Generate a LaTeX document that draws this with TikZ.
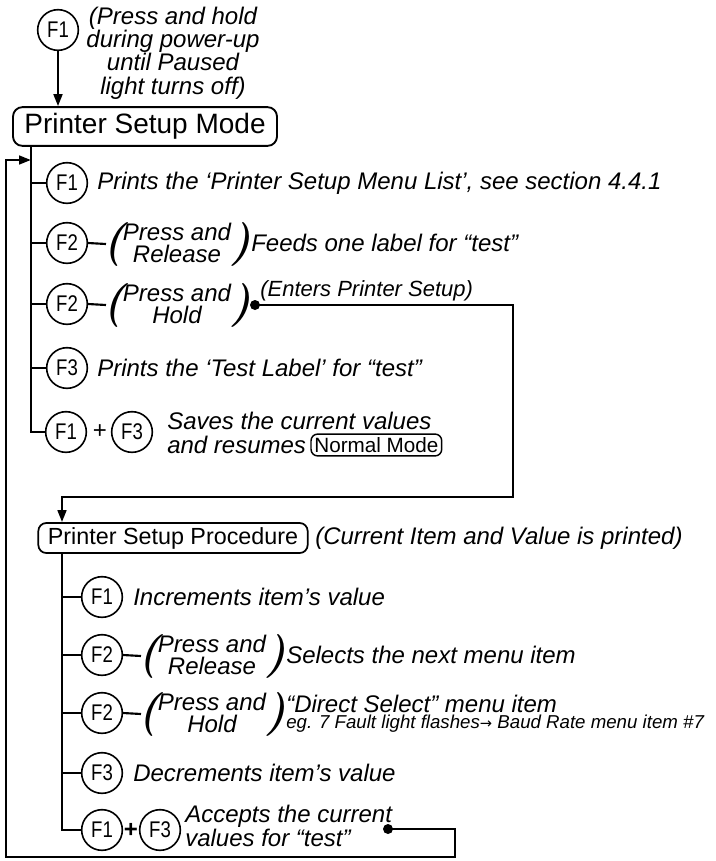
\documentclass[tikz,border=0pt]{standalone}
\usepackage{fontspec}
\setmainfont{Liberation Sans}
\newfontfamily\condfont[FakeStretch=0.82]{Liberation Sans}
\newfontfamily\dejavu{DejaVu Sans}
\newfontfamily\lmfont{Latin Modern Roman}
\usetikzlibrary{arrows.meta}
\begin{document}
\begin{tikzpicture}[x=0.75pt,y=-0.75pt,
  key/.style={circle,draw,line width=1.2pt,minimum size=30.5pt,inner sep=0pt,font=\condfont\fontsize{17}{17}\selectfont},
  wire/.style={line width=1.6pt},
  conn/.style={line width=1.9pt},
  arr/.style={-{Triangle[length=9pt,width=6.5pt]}},
  desc/.style={anchor=west,inner sep=0pt,align=left,font=\itshape\fontsize{18}{17.5}\selectfont},
  note/.style={inner sep=0pt,align=center,font=\itshape\fontsize{18}{17.5}\selectfont},
  paren/.style={inner sep=0pt,font=\lmfont\bfseries\itshape\fontsize{33}{33}\selectfont},
  pr/.style={inner sep=0pt,align=center,font=\itshape\fontsize{18}{16}\selectfont},
  modebox/.style={draw,rounded corners=7pt,line width=1.4pt,inner sep=0pt,minimum width=198pt,minimum height=29pt,font=\fontsize{21}{21}\selectfont},
  procbox/.style={draw,rounded corners=6pt,line width=1.3pt,inner sep=0pt,minimum width=202pt,minimum height=22.5pt,font=\fontsize{17.5}{17.5}\selectfont},
  normbox/.style={draw,rounded corners=5pt,line width=1.1pt,inner sep=2.5pt,font=\fontsize{15.5}{15.5}\selectfont},
  enter/.style={inner sep=0pt,font=\itshape\fontsize{16.5}{16.5}\selectfont},
  smalltext/.style={inner sep=0pt,anchor=north west,font=\itshape\fontsize{14}{14}\selectfont},
  plus/.style={inner sep=0pt,font=\fontsize{18}{18}\selectfont},
  dot/.style={circle,fill,inner sep=0pt,minimum size=7.5pt}
]
\useasboundingbox (0,0) rectangle (715,861);

% ---------- top ----------
\node[key] (k0) at (58,30) {F1};
\node[note] (hold) at (173,53) {(Press and hold\\during power-up\\until Paused\\light turns off)};
\node[modebox] (mode) at (145,126.5) {Printer Setup Mode};
\draw[conn,arr] (k0) -- (k0 |- mode.north);

\coordinate (tA) at (31,160);
% rows of Printer Setup Mode
\node[key] (a1) at (67,183) {F1};
\node[desc] (a1d) at (97,183) {Prints the ‘Printer Setup Menu List’, see section 4.4.1};

\node[key] (a2) at (67,243) {F2};
\node[paren] (a2l) at (114,244) {(};
\node[pr] (a2t) at (177,243) {Press and\\Release};
\node[paren] (a2r) at (241,244) {)};
\node[desc] (a2d) at (251,243) {Feeds one label for “test”};

\node[key] (a3) at (67,304) {F2};
\node[paren] (a3l) at (114,305) {(};
\node[pr] (a3t) at (177,304) {Press and\\Hold};
\node[paren] (a3r) at (241,305) {)};
\node[dot] (d1) at (255,305) {};
\node[enter,anchor=south west] (ent) at (260,301) {(Enters Printer Setup)};

\node[key] (a4) at (67,368) {F3};
\node[desc] (a4d) at (97,368) {Prints the ‘Test Label’ for “test”};

\node[key] (a5) at (66,432) {F1};
\node[plus] (a5p) at (100,432) {+};
\node[key] (a5b) at (132,432) {F3};
\node[desc] (a5d) at (167,421) {Saves the current values};
\node[desc] (a5e) at (167,445) {and resumes};
\node[normbox,anchor=west] (norm) at ([xshift=3pt]a5e.east) {Normal Mode};

\draw[wire] (mode.south -| tA) |- (a5.west);
\draw[wire] (a1.west -| tA) -- (a1.west);
\draw[wire] (a2.west -| tA) -- (a2.west);
\draw[wire] (a3.west -| tA) -- (a3.west);
\draw[wire] (a4.west -| tA) -- (a4.west);
\draw[wire] (a2.east) -- ([xshift=2pt]a2l.west);
\draw[wire] (a3.east) -- ([xshift=2pt]a3l.west);

% ---------- connector to procedure ----------
\coordinate (c1) at (513,497);
\coordinate (tB) at (62,497);
\node[procbox] (proc) at (173,538) {Printer Setup Procedure};
\node[desc] (cur) at (315,538) {(Current Item and Value is printed)};
\draw[conn,arr] (d1.center) -| (c1) -| (proc.north -| tB);

% ---------- rows of procedure ----------
\node[key] (b1) at (102,597) {F1};
\node[desc] (b1d) at (133,597) {Increments item’s value};

\node[key] (b2) at (102,655) {F2};
\node[paren] (b2l) at (149,656) {(};
\node[pr] (b2t) at (212,655) {Press and\\Release};
\node[paren] (b2r) at (276,656) {)};
\node[desc] (b2d) at (286,655) {Selects the next menu item};

\node[key] (b3) at (102,713) {F2};
\node[paren] (b3l) at (149,714) {(};
\node[pr] (b3t) at (212,713) {Press and\\Hold};
\node[paren] (b3r) at (276,714) {)};
\node[desc] (b3d) at (286,704) {“Direct Select” menu item};
\node[smalltext] (b3e) at ([yshift=-1.5pt]b3d.south west) {eg. 7 Fault light flashes{\dejavu\fontsize{11}{11}\selectfont →} Baud Rate menu item \#7};

\node[key] (b4) at (102,773) {F3};
\node[desc] (b4d) at (133,773) {Decrements item’s value};

\node[key] (b5) at (102,830) {F1};
\node[plus,font=\bfseries\fontsize{18}{18}\selectfont] (b5p) at (131,830) {+};
\node[key] (b5b) at (160,830) {F3};
\node[desc] (b5d) at (185,826) {Accepts the current\\values for “test”};
\node[dot] (d2) at (388,829) {};

\draw[wire] (proc.south -| tB) |- (b5.west);
\draw[wire] (b1.west -| tB) -- (b1.west);
\draw[wire] (b2.west -| tB) -- (b2.west);
\draw[wire] (b3.west -| tB) -- (b3.west);
\draw[wire] (b4.west -| tB) -- (b4.west);
\draw[wire] (b2.east) -- ([xshift=2pt]b2l.west);
\draw[wire] (b3.east) -- ([xshift=2pt]b3l.west);

% ---------- loop back ----------
\coordinate (c2) at (455,857);
\coordinate (c3) at (6,160);
\draw[conn,arr] (d2.center) -| (c2) -| (c3) -- (tA);
\end{tikzpicture}
\end{document}
